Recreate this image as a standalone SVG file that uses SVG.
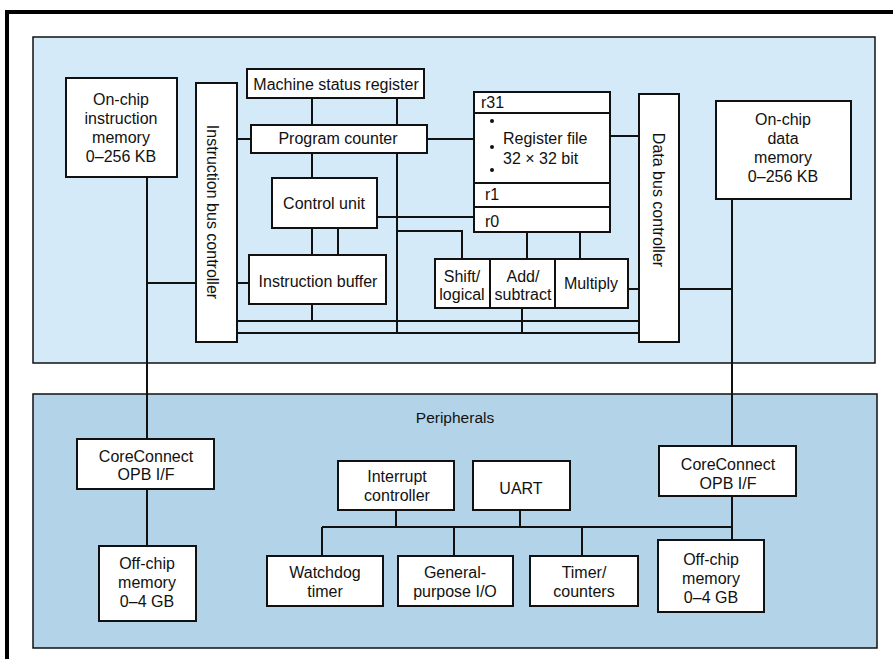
<svg xmlns="http://www.w3.org/2000/svg" width="893" height="659" viewBox="0 0 893 659">
<style>
text{font-family:"Liberation Sans",Arial,sans-serif;font-size:16px;fill:#111;}
.c{text-anchor:middle;}
.box{fill:#fff;stroke:#111;stroke-width:2;}
.ln{fill:none;stroke:#111;stroke-width:2;}
</style>
<rect x="0" y="0" width="893" height="659" fill="#fff"/>
<g id="frame">
<rect x="5" y="10" width="888" height="4" fill="#000"/>
<rect x="5" y="10" width="4" height="649" fill="#000"/>
</g>
<g id="processor-region"><rect x="33" y="37" width="842" height="326" fill="#d5eaf8" stroke="#111" stroke-width="1.5"/></g>
<g id="peripherals-region"><rect x="33" y="394" width="844" height="254" fill="#b3d4e8" stroke="#111" stroke-width="1.5"/>
<text x="455" y="423" class="c" style="font-size:15.5px">Peripherals</text></g>
<g id="connectors" class="ln">
<path d="M147 177V439M147 283H196"/>
<path d="M237 139H251M427 139H474"/>
<path d="M312 98V125M397 98V333M312 153V178"/>
<path d="M377 217H474M397 231H462V259"/>
<path d="M312 228V255M338 228V255M237 283H249M312 304V321"/>
<path d="M237 321H639M237 333H639M522 308V333"/>
<path d="M527 232V259M580 232V259M628 289H639"/>
<path d="M610 136H639M679 289H732M732 199V446"/>
<path d="M147 489V546"/>
<path d="M322 527H732M322 527V556M396 510V527M454 527V556M520 510V527M582 527V556M732 496V540"/>
</g>
<g id="instr-mem"><rect class="box" x="66" y="78" width="111" height="99"/>
<text class="c" x="121" y="105">On-chip</text><text class="c" x="121" y="124">instruction</text><text class="c" x="121" y="143">memory</text><text class="c" x="121" y="162">0–256 KB</text></g>
<g id="instr-bus-ctrl"><rect class="box" x="196" y="83" width="41" height="259"/>
<text class="c" transform="translate(207,212) rotate(90)">Instruction bus controller</text></g>
<g id="msr"><rect class="box" x="247" y="69" width="177" height="29"/><text class="c" x="336" y="90">Machine status register</text></g>
<g id="pc"><rect class="box" x="251" y="125" width="176" height="28"/><text class="c" x="338" y="144">Program counter</text></g>
<g id="control-unit"><rect class="box" x="272" y="178" width="105" height="50"/><text class="c" x="324" y="209">Control unit</text></g>
<g id="instr-buffer"><rect class="box" x="249" y="255" width="137" height="49"/><text class="c" x="318" y="287">Instruction buffer</text></g>
<g id="register-file"><rect class="box" x="474" y="92" width="136" height="140"/>
<path class="ln" d="M474 113H610M474 183H610M474 207H610"/>
<text x="481" y="108">r31</text>
<circle cx="492" cy="121" r="2" fill="#111"/><circle cx="492" cy="147" r="2" fill="#111"/><circle cx="492" cy="170" r="2" fill="#111"/>
<text x="503" y="144">Register file</text><text x="503" y="164">32 × 32 bit</text>
<text x="485" y="200">r1</text><text x="485" y="227">r0</text></g>
<g id="shift"><rect class="box" x="435" y="259" width="55" height="49"/><text class="c" x="462" y="282">Shift/</text><text class="c" x="462" y="300">logical</text></g>
<g id="add"><rect class="box" x="490" y="259" width="65" height="49"/><text class="c" x="523" y="282">Add/</text><text class="c" x="523" y="300">subtract</text></g>
<g id="multiply"><rect class="box" x="555" y="259" width="73" height="49"/><text class="c" x="591" y="289">Multiply</text></g>
<g id="data-bus-ctrl"><rect class="box" x="639" y="94" width="40" height="248"/>
<text class="c" transform="translate(653,200) rotate(90)">Data bus controller</text></g>
<g id="data-mem"><rect class="box" x="716" y="101" width="135" height="98"/>
<text class="c" x="783" y="125">On-chip</text><text class="c" x="783" y="144">data</text><text class="c" x="783" y="163">memory</text><text class="c" x="783" y="182">0–256 KB</text></g>
<g id="coreconnect-left"><rect class="box" x="77" y="439" width="137" height="50"/><text class="c" x="146" y="462">CoreConnect</text><text class="c" x="146" y="480">OPB I/F</text></g>
<g id="offchip-left"><rect class="box" x="99" y="546" width="97" height="75"/><text class="c" x="147" y="569">Off-chip</text><text class="c" x="147" y="588">memory</text><text class="c" x="147" y="607">0–4 GB</text></g>
<g id="interrupt"><rect class="box" x="338" y="461" width="116" height="49"/><text class="c" x="397" y="482">Interrupt</text><text class="c" x="397" y="501">controller</text></g>
<g id="uart"><rect class="box" x="473" y="461" width="97" height="49"/><text class="c" x="521" y="494">UART</text></g>
<g id="watchdog"><rect class="box" x="267" y="556" width="116" height="50"/><text class="c" x="325" y="578">Watchdog</text><text class="c" x="325" y="597">timer</text></g>
<g id="gpio"><rect class="box" x="398" y="556" width="115" height="50"/><text class="c" x="455" y="578">General-</text><text class="c" x="455" y="597">purpose I/O</text></g>
<g id="timer"><rect class="box" x="530" y="556" width="108" height="50"/><text class="c" x="584" y="578">Timer/</text><text class="c" x="584" y="597">counters</text></g>
<g id="coreconnect-right"><rect class="box" x="659" y="446" width="137" height="50"/><text class="c" x="728" y="470">CoreConnect</text><text class="c" x="728" y="489">OPB I/F</text></g>
<g id="offchip-right"><rect class="box" x="658" y="540" width="106" height="72"/><text class="c" x="711" y="565">Off-chip</text><text class="c" x="711" y="584">memory</text><text class="c" x="711" y="603">0–4 GB</text></g>
</svg>
